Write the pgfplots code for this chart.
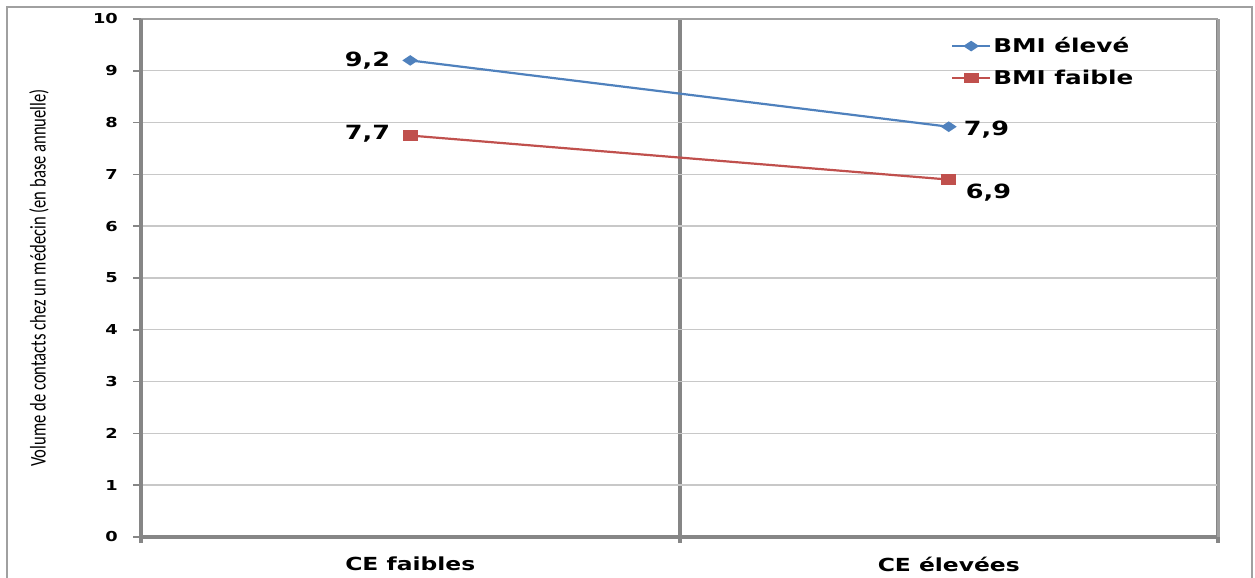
\documentclass[border=0pt]{standalone}
\usepackage{pgfplots}
\pgfplotsset{compat=1.18}
\usepackage{fontspec}
\setmainfont{DejaVu Sans}
\newfontfamily\calib{Carlito}
\definecolor{bluel}{HTML}{4F81BD}
\definecolor{redl}{HTML}{C0504D}
\definecolor{gridc}{HTML}{C8C8C8}
\definecolor{axc}{HTML}{868686}
\definecolor{framec}{HTML}{A0A0A0}
\newcommand{\hs}[1]{\scalebox{1.3}[1]{#1}}
\begin{document}
\begin{tikzpicture}[x=1bp,y=1bp]
\useasboundingbox (0,0) rectangle (1255,578);
\draw[framec, line width=1.2bp] (7,-5) -- (7,571) -- (1252,571) -- (1252,-5);
\begin{axis}[
  at={(141bp,41bp)}, anchor=south west,
  scale only axis, width=1077bp, height=518bp,
  xmin=-0.5, xmax=1.5, ymin=0, ymax=10,
  axis line style={draw=none},
  tick align=outside,
  xtick pos=left, ytick pos=left,
  xtick={0,1},
  xticklabels={\hs{CE faibles},\hs{CE élevées}},
  xtick style={draw=none},
  major x tick style={draw=none},
  minor xtick={-0.5,0.5,1.5},
  minor x tick style={draw=axc, line width=4bp},
  minor tick length=6bp,
  xminorgrids=true,
  minor grid style={axc, line width=4bp},
  ytick={0,1,2,3,4,5,6,7,8,9,10},
  yticklabels={\hs{0},\hs{1},\hs{2},\hs{3},\hs{4},\hs{5},\hs{6},\hs{7},\hs{8},\hs{9},\hs{10}},
  major tick length=8bp,
  ytick style={draw=axc, line width=1.5bp},
  ymajorgrids=true,
  major grid style={gridc, line width=1.4bp},
  yticklabel style={font=\bfseries\fontsize{13.7bp}{15bp}\selectfont, inner sep=0pt, xshift=-15bp},
  xticklabel style={font=\bfseries\fontsize{18bp}{20bp}\selectfont, inner sep=0pt, yshift=-12bp},
  ylabel={\calib\fontsize{16.6bp}{18bp}\selectfont\scalebox{1}[1.35]{Volume de contacts chez un médecin (en base annuelle)}},
  ylabel style={at={(axis description cs:-0.0947,0.5)}, anchor=center, inner sep=0pt},
  legend style={at={(0.752,0.968)}, anchor=north west, draw=none, fill=none,
    font=\bfseries\fontsize{19bp}{21bp}\selectfont, inner sep=0pt, row sep=12bp,
    /tikz/every even column/.append style={column sep=2bp}},
  legend cell align=left,
  legend image code/.code={\draw[mark repeat=2,mark phase=2,#1] plot coordinates {(0bp,0bp) (19bp,0bp) (38bp,0bp)};},
  clip=false,
]
\addplot[bluel, line width=2.2bp, mark=diamond*, mark size=4bp, mark options={xscale=2, solid}] coordinates {(0,9.2) (1,7.92)};
\addlegendentry{\hs{BMI élevé}}
\addplot[redl, line width=2.2bp, mark=square*, mark size=4bp, mark options={xscale=1.6, solid}] coordinates {(0,7.75) (1,6.9)};
\addlegendentry{\hs{BMI faible}}
\draw[axc, line width=4bp] (rel axis cs:0,0) -- (rel axis cs:1,0);
\draw[framec, line width=2bp] (rel axis cs:0,1) -- (rel axis cs:1,1);
\draw[framec, line width=3bp] (rel axis cs:1,0) -- (rel axis cs:1,1);
\draw[axc, line width=4bp] (rel axis cs:0,-0.012) -- (rel axis cs:0,1);
\begin{scope}[every node/.style={inner sep=0pt, font=\bfseries\fontsize{19.6bp}{21bp}\selectfont}]
\node[anchor=east] at ([xshift=-20bp]axis cs:0,9.2) {\hs{9,2}};
\node[anchor=east] at ([xshift=-20bp,yshift=2bp]axis cs:0,7.75) {\hs{7,7}};
\node[anchor=west] at ([xshift=15bp,yshift=-3bp]axis cs:1,7.92) {\hs{7,9}};
\node[anchor=west] at ([xshift=17bp,yshift=-13bp]axis cs:1,6.9) {\hs{6,9}};
\end{scope}
\end{axis}
\end{tikzpicture}
\end{document}
